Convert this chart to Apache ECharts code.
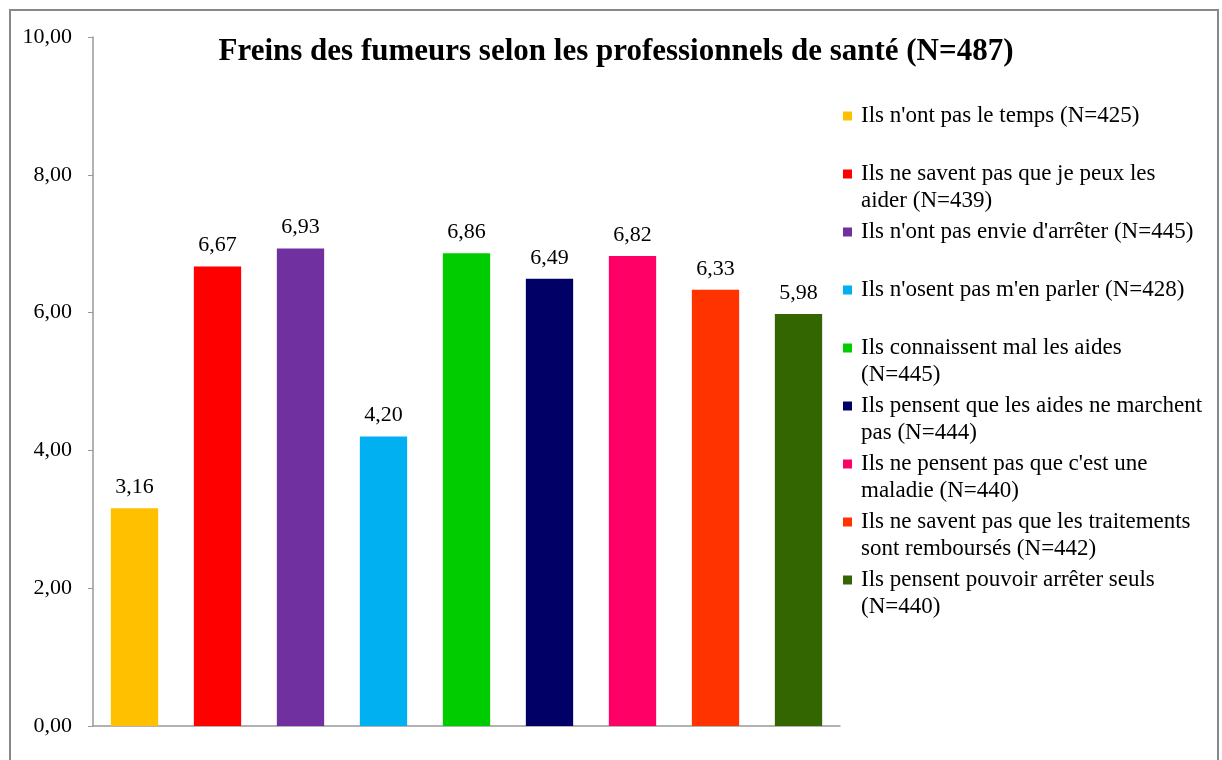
<!DOCTYPE html>
<html>
<head>
<meta charset="UTF-8">
<title>Freins des fumeurs</title>
<script src="https://cdn.jsdelivr.net/npm/echarts@6/dist/echarts.min.js"></script>
</head>
<body style="margin:0">
	<div id="main" style="width:1222px;height:760px;"></div>
	<script type="text/javascript">
	// reasons, in bar order (line breaks follow the legend wrapping)
	var categories = [
	    "Ils n'ont pas le temps (N=425)",
	    "Ils ne savent pas que je peux les\naider (N=439)",
	    "Ils n'ont pas envie d'arrêter (N=445)",
	    "Ils n'osent pas m'en parler (N=428)",
	    "Ils connaissent mal les aides\n(N=445)",
	    "Ils pensent que les aides ne marchent\npas (N=444)",
	    "Ils ne pensent pas que c'est une\nmaladie (N=440)",
	    "Ils ne savent pas que les traitements\nsont remboursés (N=442)",
	    "Ils pensent pouvoir arrêter seuls\n(N=440)"
	];
	var values = [3.16, 6.67, 6.93, 4.20, 6.86, 6.49, 6.82, 6.33, 5.98];
	var colors = ['#FFC000', '#FF0000', '#7030A0', '#00B0F0', '#00CC00', '#000066', '#FF0066', '#FF3300', '#336600'];
	var yTicks = [0, 2, 4, 6, 8, 10];

	var font = '"Liberation Serif", "Times New Roman", serif';
	var fmt = function (v) { return v.toFixed(2).replace('.', ','); };

	var series = [];
	var legends = [];
	categories.forEach(function (name, i) {
	    var data = categories.map(function (c, j) { return j === i ? values[i] : '-'; });
	    series.push({
	        type: 'bar',
	        name: name,
	        stack: 'all',
	        barWidth: '57%',
	        itemStyle: { color: colors[i] },
	        label: {
	            show: true,
	            position: 'top',
	            distance: 10,
	            fontFamily: font,
	            fontSize: 22,
	            color: '#000',
	            formatter: function (p) { return fmt(p.value); }
	        },
	        data: data
	    });
	    // square marker sits on the first text line
	    var lines = name.split('\n').length;
	    var h = lines * 27;
	    legends.push({
	        orient: 'vertical',
	        left: 843,
	        top: 116 + i * 58 - 13.5,
	        padding: 0,
	        itemWidth: 13,
	        itemHeight: h,
	        icon: 'path://M0,0M13,' + h + 'M0,9L9,9L9,18L0,18Z',
	        textStyle: { fontFamily: font, fontSize: 23, lineHeight: 27, color: '#000' },
	        data: [name]
	    });
	});

	var myChart = echarts.init(document.getElementById('main'));
	myChart.setOption({
	    animation: false,
	    backgroundColor: '#fff',
	    title: {
	        text: 'Freins des fumeurs selon les professionnels de santé (N=487)',
	        left: 611,
	        textAlign: 'center',
	        top: 31,
	        textStyle: { fontFamily: font, fontSize: 31, fontWeight: 'bold', color: '#000' }
	    },
	    legend: legends,
	    grid: { left: 93, right: 382, top: 37, bottom: 34 },
	    xAxis: {
	        type: 'category',
	        data: categories,
	        axisLine: { lineStyle: { color: '#999', width: 1.5 } },
	        axisTick: { show: false },
	        axisLabel: { show: false }
	    },
	    yAxis: {
	        type: 'value',
	        min: yTicks[0],
	        max: yTicks[yTicks.length - 1],
	        interval: yTicks[1] - yTicks[0],
	        axisLine: { show: true, lineStyle: { color: '#999', width: 1.5 } },
	        axisTick: { show: true, length: 5, lineStyle: { color: '#999' } },
	        splitLine: { show: false },
	        axisLabel: {
	            margin: 21,
	            fontFamily: font,
	            fontSize: 22,
	            color: '#000',
	            formatter: fmt
	        }
	    },
	    graphic: [{
	        type: 'rect',
	        shape: { x: 10, y: 10, width: 1208, height: 800 },
	        style: { fill: null, stroke: '#888', lineWidth: 2 },
	        silent: true
	    }],
	    series: series
	});
	</script>
</body>
</html>
